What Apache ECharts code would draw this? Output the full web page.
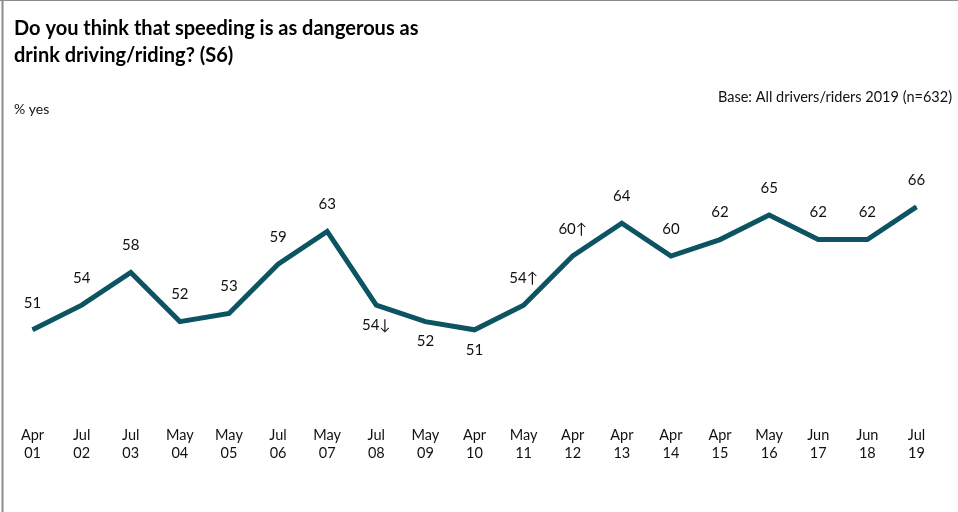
<!DOCTYPE html>
<html>
<head>
<meta charset="utf-8">
<script src="https://cdn.jsdelivr.net/npm/echarts@6/dist/echarts.min.js"></script>
<style>
	html, body { margin: 0; padding: 0; background: #fff; }
	#chart { width: 958px; height: 512px; }
</style>
</head>
<body>
<div id="chart"></div>
<script>
// survey waves (month / two-digit year)
const months = ["Apr", "Jul", "Jul", "May", "May", "Jul", "May", "Jul", "May", "Apr",
	"May", "Apr", "Apr", "Apr", "Apr", "May", "Jun", "Jun", "Jul"];
const years = ["01", "02", "03", "04", "05", "06", "07", "08", "09", "10",
	"11", "12", "13", "14", "15", "16", "17", "18", "19"];
const yesPct = [51, 54, 58, 52, 53, 59, 63, 54, 52, 51, 54, 60, 64, 60, 62, 65, 62, 62, 66];
// significance markers shown after the value
const sigMark = ["", "", "", "", "", "", "", "↓", "", "", "↑", "↑", "", "", "", "", "", "", ""];
// which side of the line the label sits on
const labelSide = ["top", "top", "top", "top", "top", "top", "top", "bottom", "bottom", "bottom",
	"top", "top", "top", "top", "top", "top", "top", "top", "top"];

const categories = months.map((m, i) => m + "\n" + years[i]);
const seriesData = yesPct.map((v, i) => ({
	value: v,
	label: {
		position: labelSide[i],
		distance: labelSide[i] === "top" ? 19 : 12,
		formatter: v + sigMark[i]
	}
}));

const FONT = "Lato, 'Noto Sans', sans-serif";

const myChart = echarts.init(document.getElementById("chart"));
myChart.setOption({
	animation: false,
	textStyle: { fontFamily: FONT },
	grid: { left: 8, right: 17, top: 174, bottom: 92 },
	xAxis: {
		type: "category",
		data: categories,
		boundaryGap: true,
		axisLine: { show: false },
		axisTick: { show: false },
		axisLabel: {
			color: "#111",
			fontSize: 14.5,
			lineHeight: 18,
			margin: 6,
			interval: 0
		}
	},
	yAxis: {
		type: "value",
		min: 40,
		max: 70,
		show: false,
		splitLine: { show: false }
	},
	series: [
		{
			name: "% yes",
			type: "line",
			data: seriesData,
			symbol: "circle",
			symbolSize: 1,
			itemStyle: { color: "#0d5462" },
			lineStyle: { color: "#0d5462", width: 5, join: "miter" },
			label: {
				show: true,
				color: "#111",
				fontSize: 15
			}
		}
	],
	graphic: [
		{
			type: "text",
			left: 14,
			top: 15,
			style: {
				text: "Do you think that speeding is as dangerous as\ndrink driving/riding? (S6)",
				font: "bold 20px " + FONT,
				lineHeight: 27,
				fill: "#000"
			}
		},
		{
			type: "text",
			left: 14,
			top: 102,
			style: { text: "% yes", font: "14px " + FONT, fill: "#111" }
		},
		{
			type: "text",
			right: 6,
			top: 90,
			style: { text: "Base: All drivers/riders 2019 (n=632)", font: "14.5px " + FONT, fill: "#111" }
		},
		// frame: top and left edges only
		{ type: "line", shape: { x1: 0, y1: 0.5, x2: 958, y2: 0.5 }, style: { stroke: "#8c8c8c", lineWidth: 1 } },
		{ type: "line", shape: { x1: 2.5, y1: 0, x2: 2.5, y2: 512 }, style: { stroke: "#8c8c8c", lineWidth: 2 } }
	]
});
</script>
</body>
</html>
